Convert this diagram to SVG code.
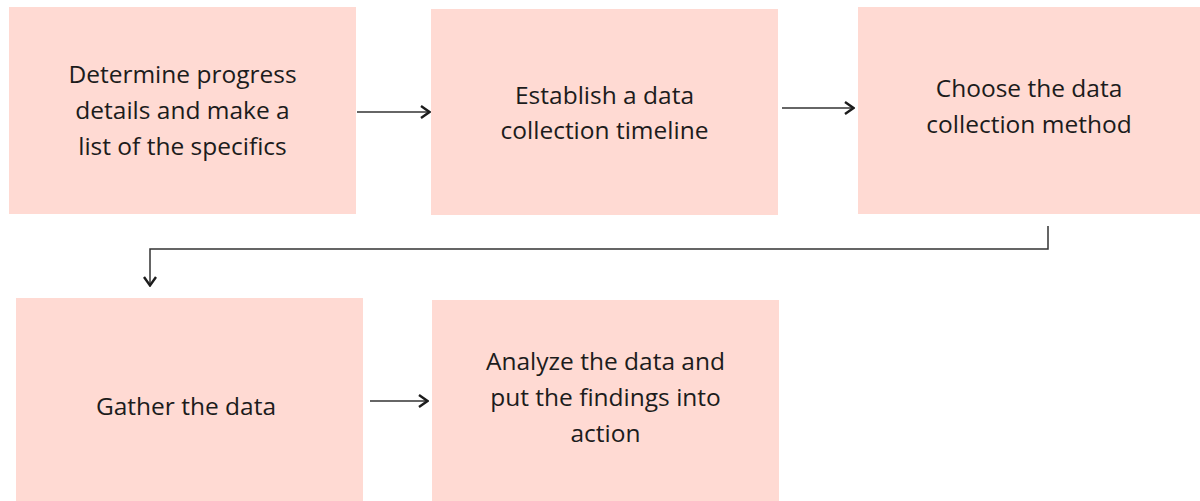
<svg xmlns="http://www.w3.org/2000/svg" width="1200" height="501" viewBox="0 0 1200 501">
  <style>
    .box { fill: #FFDAD3; }
    .label { font-family: "Open Sans", Lato, sans-serif; font-size: 24.5px; fill: #1c1c1c; text-anchor: middle; }
    .link { fill: none; stroke: #333333; stroke-width: 1.5; }
  </style>
  <defs>
    <marker id="chev" viewBox="0 0 12 14" refX="11" refY="7" markerWidth="12" markerHeight="14" markerUnits="userSpaceOnUse" orient="auto">
      <path d="M2,1 L10.5,7 L2,13" fill="none" stroke="#1c1c1c" stroke-width="2.4"/>
    </marker>
  </defs>
  <rect width="1200" height="501" fill="#ffffff"/>

  <g id="step1">
    <rect class="box" x="9" y="7" width="347" height="207"/>
    <text class="label" x="182.5" y="83">Determine progress</text>
    <text class="label" x="182.5" y="119">details and make a</text>
    <text class="label" x="182.5" y="155">list of the specifics</text>
  </g>
  <g id="step2">
    <rect class="box" x="431" y="9" width="347" height="206"/>
    <text class="label" x="604.5" y="104">Establish a data</text>
    <text class="label" x="604.5" y="139">collection timeline</text>
  </g>
  <g id="step3">
    <rect class="box" x="858" y="7" width="342" height="207"/>
    <text class="label" x="1029" y="97">Choose the data</text>
    <text class="label" x="1029" y="133">collection method</text>
  </g>
  <g id="step4">
    <rect class="box" x="16" y="298" width="347" height="203"/>
    <text class="label" x="186" y="415">Gather the data</text>
  </g>
  <g id="step5">
    <rect class="box" x="432" y="300" width="347" height="201"/>
    <text class="label" x="605.5" y="370">Analyze the data and</text>
    <text class="label" x="605.5" y="406">put the findings into</text>
    <text class="label" x="605.5" y="442">action</text>
  </g>

  <g id="connectors">
    <path class="link" d="M357,112 H430" marker-end="url(#chev)"/>
    <path class="link" d="M782,108 H854" marker-end="url(#chev)"/>
    <path class="link" d="M1048,226 V249 H150 V286" marker-end="url(#chev)"/>
    <path class="link" d="M370,401 H428" marker-end="url(#chev)"/>
  </g>
</svg>
